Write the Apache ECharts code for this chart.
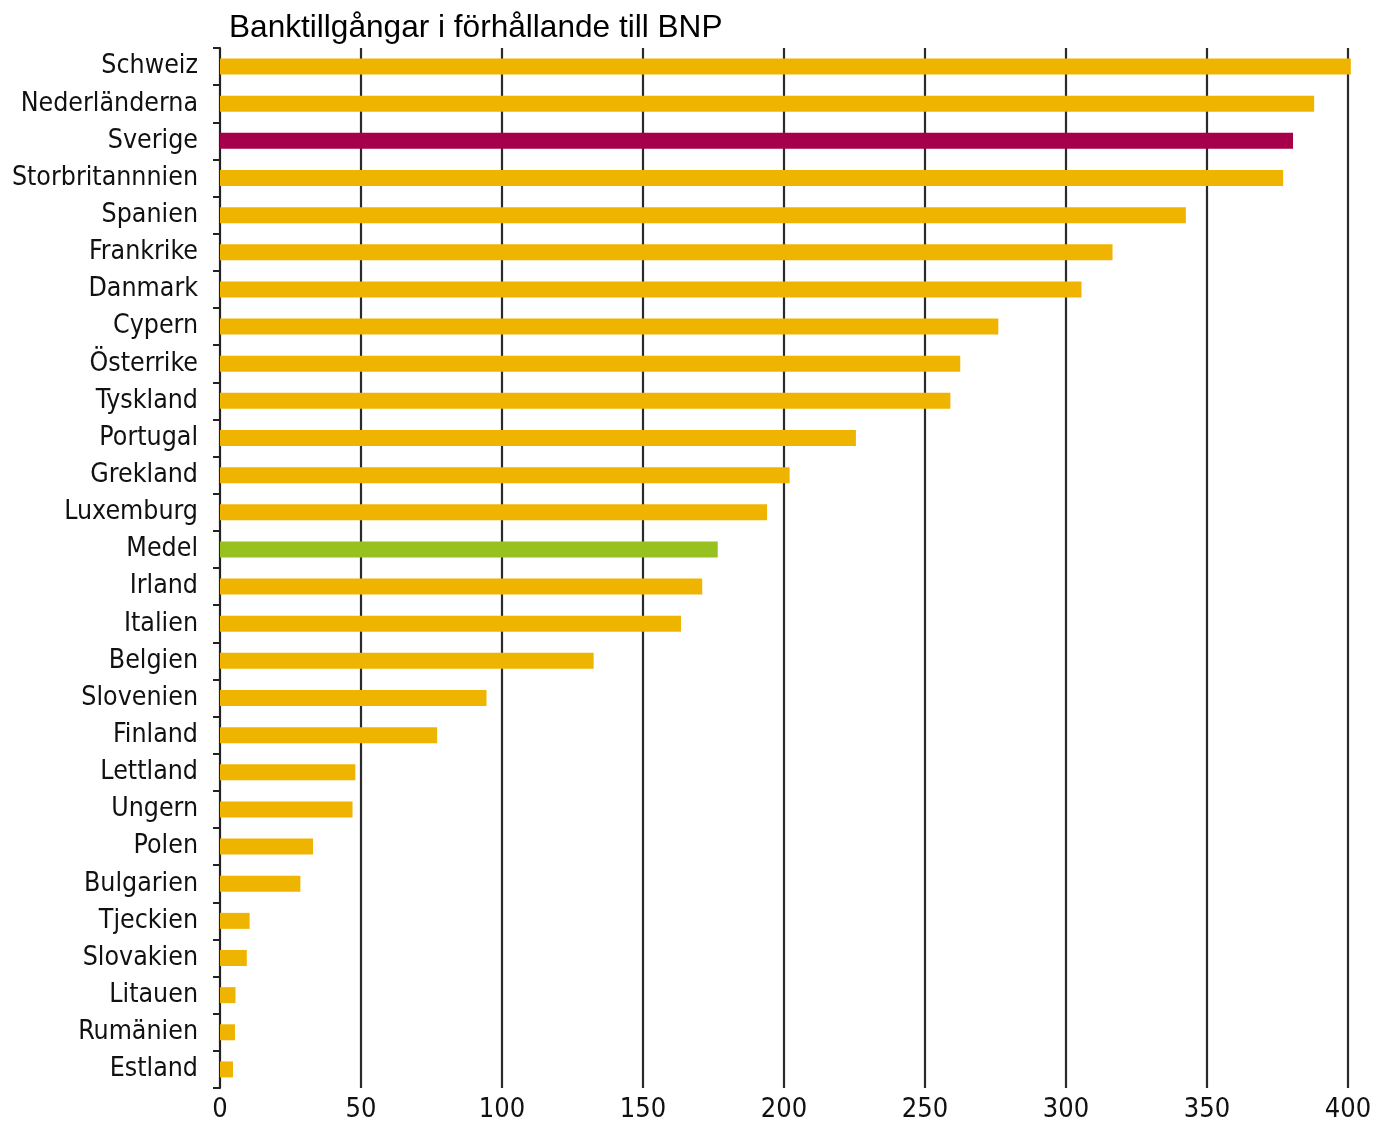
<!DOCTYPE html>
<html><head><meta charset="utf-8">
<script src="https://cdn.jsdelivr.net/npm/echarts@6/dist/echarts.min.js"></script>
<style>html,body{margin:0;padding:0;background:#fff}#c{width:1377px;height:1126px}</style>
</head><body><div id="c"></div>
<script>
const categories = ["Schweiz","Nederländerna","Sverige","Storbritannnien","Spanien","Frankrike","Danmark","Cypern","Österrike","Tyskland","Portugal","Grekland","Luxemburg","Medel","Irland","Italien","Belgien","Slovenien","Finland","Lettland","Ungern","Polen","Bulgarien","Tjeckien","Slovakien","Litauen","Rumänien","Estland"];
const values = [401,388,380.5,377,342.5,316.5,305.5,276,262.5,259,225.5,202,194,176.5,171,163.5,132.5,94.5,77,48,47,33,28.5,10.5,9.5,5.5,5.3,4.6];
const xTicks = [0,50,100,150,200,250,300,350,400];
const title = "Banktillgångar i förhållande till BNP";
const colorDefault = '#EFB400', colorSweden = '#A6004A', colorMean = '#96C11E';

const chart = echarts.init(document.getElementById('c'));
chart.setOption({
  backgroundColor: '#fff',
  animation: false,
  title: { text: title, left: 224, top: 7, textStyle: { fontFamily: 'Liberation Sans', fontSize: 31.6, fontWeight: 'normal', color: '#000' } },
  grid: { left: 220, right: 29, top: 48, bottom: 38 },
  xAxis: {
    type: 'value', min: xTicks[0], max: xTicks[xTicks.length-1], interval: 50,
    axisLine: { show: false }, axisTick: { show: false },
    axisLabel: { fontFamily: 'DejaVu Sans Condensed', fontSize: 27, color: '#111', margin: 8 },
    splitLine: { show: true, lineStyle: { color: '#2a2a2a', width: 2.2 } }
  },
  yAxis: {
    type: 'category', data: categories, inverse: true,
    axisLine: { show: true, lineStyle: { color: '#222', width: 2 } },
    axisTick: { show: true, length: 7, lineStyle: { color: '#222', width: 2 } },
    axisLabel: { fontFamily: 'DejaVu Sans Condensed', fontSize: 26.5, color: '#111', margin: 22, padding: [0,0,4,0] }
  },
  series: [{
    type: 'bar', barWidth: 16, clip: false,
    data: values.map((v, i) => ({ value: v, itemStyle: { color: categories[i] === 'Sverige' ? colorSweden : (categories[i] === 'Medel' ? colorMean : colorDefault) } }))
  }]
});
</script></body></html>
